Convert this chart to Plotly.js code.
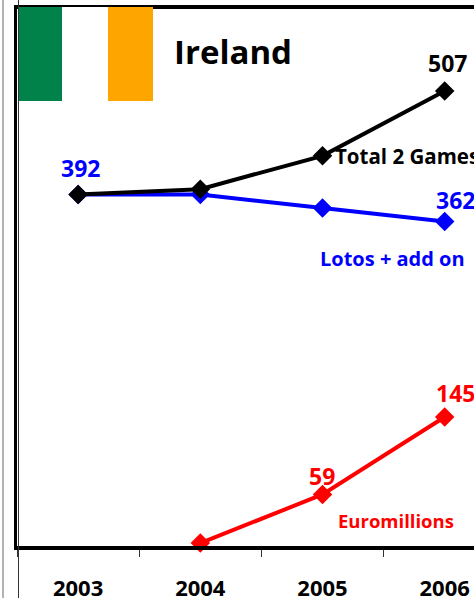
<!DOCTYPE html>
<html><head><meta charset="utf-8">
<script src="https://cdn.plot.ly/plotly-3.0.1.min.js"></script>
<style>html,body{margin:0;padding:0;background:#fff;overflow:hidden}</style>
</head><body><div id="c" style="width:474px;height:598px"></div>
<script>
const years = ['2003','2004','2005','2006'];
const total = [392,398,435,507];
const lotos = [392,392,377,362];
const euro = [null,5,59,145];
const W=474,H=598,L=17,T=9,B=52;
const px=x=>(x-L)/(W-L), py=y=>(H-B-y)/(H-B-T);
const FONT='"Open Sans","DejaVu Sans",sans-serif';
const line=(y,c)=>({x:years,y:y,type:'scatter',mode:'lines+markers',cliponaxis:false,
  line:{color:c,width:4},marker:{symbol:'diamond',size:15,color:c}});
const note=(text,x,y,c,size,anchor)=>({text:'<b>'+text+'</b>',xref:'paper',yref:'paper',x:px(x),y:py(y),
  xanchor:anchor||'center',yanchor:'middle',showarrow:false,font:{family:FONT,size:size,color:c}});
const rect=(x0,x1,c)=>({type:'rect',xref:'paper',yref:'paper',x0:px(x0),x1:px(x1),y0:py(101),y1:py(7),
  fillcolor:c,line:{width:0},layer:'above'});
const vline=(x,c)=>({type:'line',xref:'paper',yref:'paper',x0:px(x),x1:px(x),y0:py(598),y1:py(0),
  line:{color:c,width:1},layer:'above'});
Plotly.newPlot('c',[line(lotos,'#0000ff'),line(euro,'#ff0000'),line(total,'#000000')],{
  width:W,height:H,showlegend:false,paper_bgcolor:'#fff',plot_bgcolor:'#fff',
  margin:{l:L,r:0,t:T,b:B,pad:0},
  xaxis:{type:'category',categoryorder:'array',categoryarray:years,range:[-0.5,3.24],tickson:'boundaries',
    ticks:'outside',ticklen:7,tickwidth:1,tickcolor:'#333',showgrid:false,zeroline:false,
    showline:true,linecolor:'#000',linewidth:4,mirror:true,ticklabelstandoff:20,
    tickfont:{family:FONT,size:22,color:'#000',weight:'bold'},automargin:false},
  yaxis:{range:[1.8,598],showticklabels:false,ticks:'',showgrid:false,zeroline:false,showline:true,linecolor:'#000',linewidth:3},
  shapes:[rect(18,62,'#00824a'),rect(62,108,'#ffffff'),rect(108,153,'#ffa500'),vline(3,'#666'),vline(18.5,'#333')],
  annotations:[
    note('Ireland',233,52,'#000',33),
    note('392',80,168,'#0000ff',23),
    note('507',447,63,'#000',23),
    note('362',455,200,'#0000ff',23),
    note('145',455,393,'#ff0000',23),
    note('59',322,476,'#ff0000',23),
    note('Total 2 Games',333,156,'#000',20.5,'left'),
    note('Lotos + add on',392,258,'#0000ff',20),
    note('Euromillions',396,520,'#ff0000',18.5)
  ]
},{displayModeBar:false,staticPlot:true});
</script></body></html>
